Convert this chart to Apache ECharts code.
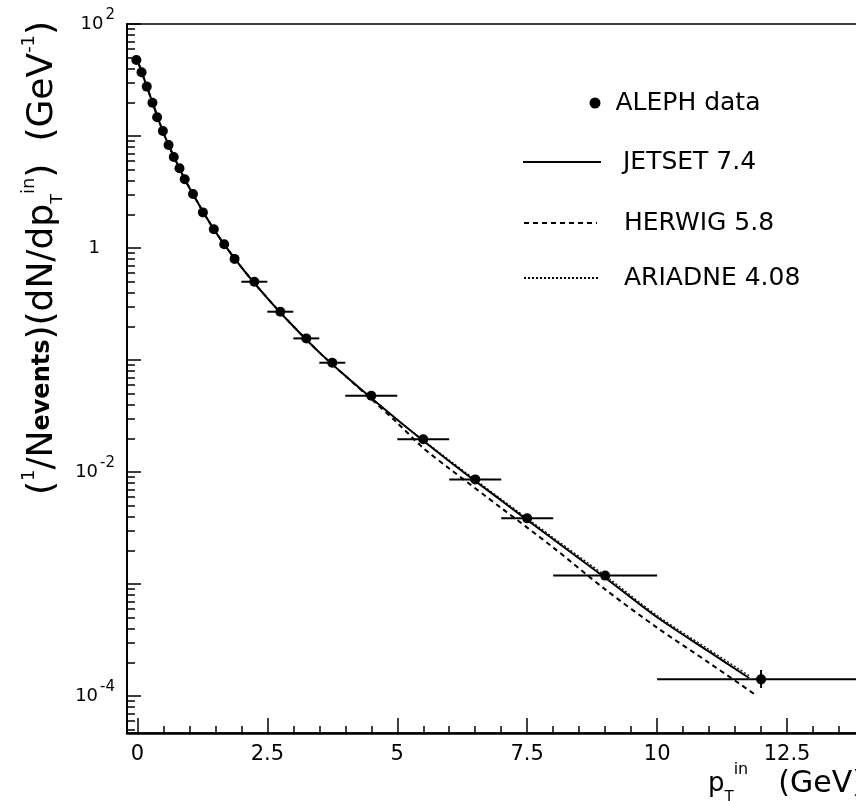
<!DOCTYPE html>
<html>
<head>
<meta charset="utf-8">
<script src="https://cdn.jsdelivr.net/npm/echarts@6/dist/echarts.min.js"></script>
<style>
  html, body { margin: 0; background: #fff; }
  #chart { width: 856px; height: 801px; }
</style>
</head>
<body>
<div id="chart"></div>
<script>
// ALEPH data, pT(in) spectrum (GeV)
const dataX = [-0.02, 0.08, 0.18, 0.29, 0.38, 0.49, 0.60, 0.70, 0.81, 0.91,
               1.07, 1.26, 1.47, 1.67, 1.87, 2.25, 2.75, 3.25, 3.75, 4.5,
               5.5, 6.5, 7.5, 9, 12];
const dataY = [47.7, 37.1, 27.6, 19.8, 14.7, 11.1, 8.3, 6.5, 5.15, 4.11,
               3.04, 2.08, 1.47, 1.08, 0.80, 0.50, 0.27, 0.156, 0.0946, 0.048,
               0.0196, 0.0086, 0.00386, 0.00119, 1.41e-4];
// bin edges (horizontal error bars), null = hidden under the marker
const errLo = [null, null, null, null, null, null, null, null, null, null,
               null, null, null, null, null, 2.0, 2.5, 3.0, 3.5, 4.0,
               5.0, 6.0, 7.0, 8.0, 10.0];
const errHi = [null, null, null, null, null, null, null, null, null, null,
               null, null, null, null, null, 2.5, 3.0, 3.5, 4.0, 5.0,
               6.0, 7.0, 8.0, 10.0, 14.0];
// vertical error, only visible on the last point
const errYLo = [1.18e-4];
const errYHi = [1.71e-4];
const errYAt = [12];

// Monte Carlo curves
const jetsetX = [-0.02, 0.25, 0.5, 0.75, 1, 1.5, 2, 2.5, 3, 3.5, 4, 5, 6, 7, 8, 9, 10, 11, 11.77];
const jetsetY = [50.7, 22.5, 10.7, 5.86, 3.45, 1.40, 0.675, 0.357, 0.200, 0.117, 0.0723,
                 0.0293, 0.0125, 0.00557, 0.00251, 0.00114, 5.05e-4, 2.49e-4, 1.45e-4];
const herwigX = [-0.02, 0.25, 0.5, 0.75, 1, 1.5, 2, 2.5, 3, 3.5, 4, 4.5, 5, 5.5, 6, 7, 8, 9, 10, 11, 11.9];
const herwigY = [50.7, 22.5, 10.7, 5.86, 3.45, 1.40, 0.675, 0.357, 0.200, 0.117, 0.0723,
                 0.0448, 0.0275, 0.0164, 0.01076, 0.00478, 0.00212, 8.97e-4, 4.08e-4, 1.98e-4, 1.02e-4];
const ariadneX = [-0.02, 0.25, 0.5, 0.75, 1, 1.5, 2, 2.5, 3, 3.5, 4, 5, 6, 7, 8, 9, 10, 11, 11.8];
const ariadneY = [50.7, 22.5, 10.7, 5.86, 3.45, 1.40, 0.675, 0.357, 0.200, 0.117, 0.0723,
                  0.0293, 0.0128, 0.00574, 0.0026, 0.00119, 5.24e-4, 2.6e-4, 1.49e-4];

// axis ticks
const xMajor = [0, 2.5, 5, 7.5, 10, 12.5, 15];
const xMinor = [0.5, 1, 1.5, 2, 3, 3.5, 4, 4.5, 5.5, 6, 6.5, 7, 8, 8.5, 9, 9.5,
                10.5, 11, 11.5, 12, 13, 13.5, 14, 14.5];
const yMajor = [1e-4, 1e-3, 1e-2, 1e-1, 1, 10, 100];
const yLabels = [1e-4, 1e-2, 1, 100];
const yMantissa = [2, 3, 4, 5, 6, 7, 8, 9];
const yDecades = [1e-5, 1e-4, 1e-3, 1e-2, 1e-1, 1, 10];

const X_MIN = -0.2, X_MAX = 15;
const Y_MIN = 4.68e-5, Y_MAX = 100;
const FONT = 'DejaVu Sans';

const pairs = (xs, ys) => xs.map((x, i) => [x, ys[i]]);
const yMinor = [];
yDecades.forEach(d => yMantissa.forEach(m => {
  const v = +(m * d).toPrecision(3);
  if (v > Y_MIN && v < Y_MAX) yMinor.push(v);
}));

const errRows = [];
dataX.forEach((x, i) => {
  if (errLo[i] == null) return;
  const k = errYAt.indexOf(x);
  errRows.push([x, dataY[i], errLo[i], errHi[i],
                k >= 0 ? errYLo[k] : 0, k >= 0 ? errYHi[k] : 0]);
});

function yLabel(v) {
  const e = Math.round(Math.log10(v));
  if (e === 0) return '{b|1}{p| }';
  return '{b|10}{s|' + e + '}';
}

const chart = echarts.init(document.getElementById('chart'), null, { renderer: 'canvas' });

const textBase = { fontFamily: FONT, fontSize: 25, color: '#000', lineHeight: 30 };
const legendBase = {
  orient: 'vertical',
  padding: 0,
  selectedMode: false,
  itemStyle: { opacity: 0, color: 'rgba(0,0,0,0)', borderWidth: 0 },
};
const tickStyle = { color: '#000', width: 1.5 };

chart.setOption({
  animation: false,
  backgroundColor: '#fff',
  grid: {
    left: 127, top: 24, width: 790, height: 709,
    show: true, borderColor: '#000', borderWidth: 1.5,
    containLabel: false, outerBoundsMode: 'none',
  },
  xAxis: [
    {
      type: 'value', min: X_MIN, max: X_MAX, position: 'bottom',
      axisLine: { show: true, onZero: false, lineStyle: { color: '#000', width: 2.5 } },
      axisTick: { show: true, inside: true, length: 15, customValues: xMajor, lineStyle: tickStyle },
      axisLabel: { show: true, customValues: xMajor, margin: 11,
                   fontFamily: FONT, fontSize: 21, color: '#000' },
      splitLine: { show: false },
    },
    {
      type: 'value', min: X_MIN, max: X_MAX, position: 'bottom',
      axisLine: { show: false, onZero: false },
      axisTick: { show: true, inside: true, length: 7, customValues: xMinor, lineStyle: tickStyle },
      axisLabel: { show: false },
      splitLine: { show: false },
    },
  ],
  yAxis: [
    {
      type: 'log', logBase: 10, min: Y_MIN, max: Y_MAX, position: 'left',
      axisLine: { show: true, onZero: false, lineStyle: { color: '#000', width: 2 } },
      axisTick: { show: true, inside: true, length: 14, customValues: yMajor, lineStyle: tickStyle },
      axisLabel: {
        show: true, customValues: yLabels, margin: 12, formatter: yLabel,
        rich: {
          b: { fontFamily: FONT, fontSize: 18, color: '#000', lineHeight: 32, verticalAlign: 'middle' },
          s: { fontFamily: FONT, fontSize: 15, color: '#000', lineHeight: 12, verticalAlign: 'top', padding: [0, 0, 0, 2] },
          p: { width: 15 },
        },
      },
      splitLine: { show: false },
    },
    {
      type: 'log', logBase: 10, min: Y_MIN, max: Y_MAX, position: 'left',
      axisLine: { show: false, onZero: false },
      axisTick: { show: true, inside: true, length: 8, customValues: yMinor, lineStyle: tickStyle },
      axisLabel: { show: false },
      splitLine: { show: false },
    },
  ],
  legend: [
    Object.assign({}, legendBase, {
      data: [{ name: 'ALEPH data', icon: 'circle' }],
      left: 589.5, top: 88, itemWidth: 11, itemHeight: 11,
      itemStyle: {},
      textStyle: Object.assign({}, textBase, { padding: [0, 0, 0, 10] }),
    }),
    Object.assign({}, legendBase, {
      data: ['JETSET 7.4'], left: 522, top: 147, itemWidth: 78, itemHeight: 14,
      textStyle: Object.assign({}, textBase, { padding: [0, 0, 0, 17] }),
    }),
    Object.assign({}, legendBase, {
      data: ['HERWIG 5.8'], left: 523, top: 208, itemWidth: 73, itemHeight: 14,
      textStyle: Object.assign({}, textBase, { padding: [0, 0, 0, 22] }),
    }),
    Object.assign({}, legendBase, {
      data: ['ARIADNE 4.08'], left: 523, top: 263, itemWidth: 74, itemHeight: 14,
      textStyle: Object.assign({}, textBase, { padding: [0, 0, 0, 21] }),
    }),
  ],
  graphic: [
    {
      type: 'text', x: 43, y: 258, rotation: Math.PI / 2, silent: true,
      style: {
        text: '{m|(}{sp|1}{m|/N}{sb|events}{m|)(dN/dp}{st|T}{sp|in}{m|)}{g| }{m|(GeV}{sp|-1}{m|)}',
        align: 'center', verticalAlign: 'middle', fill: '#000',
        rich: {
          m: { fontFamily: FONT, fontSize: 36, lineHeight: 46, verticalAlign: 'middle', fill: '#000' },
          sp: { fontFamily: FONT, fontSize: 18, lineHeight: 28, verticalAlign: 'top', fill: '#000' },
          sb: { fontFamily: FONT, fontSize: 24, fontWeight: 'bold', lineHeight: 24, verticalAlign: 'middle', fill: '#000' },
          st: { fontFamily: FONT, fontSize: 16, lineHeight: 26, verticalAlign: 'bottom', fill: '#000' },
          g: { width: 22 },
        },
      },
    },
    {
      type: 'text', x: 708, y: 784, silent: true,
      style: {
        text: '{m|p}{sb|T}{sp|in}{g| }{n|(GeV)}',
        align: 'left', verticalAlign: 'middle', fill: '#000',
        rich: {
          m: { fontFamily: FONT, fontSize: 26, lineHeight: 44, verticalAlign: 'middle', fill: '#000' },
          sp: { fontFamily: FONT, fontSize: 16, lineHeight: 22, verticalAlign: 'top', fill: '#000' },
          sb: { fontFamily: FONT, fontSize: 15, lineHeight: 22, verticalAlign: 'bottom', fill: '#000' },
          n: { fontFamily: FONT, fontSize: 30, lineHeight: 44, verticalAlign: 'middle', fill: '#000' },
          g: { width: 30 },
        },
      },
    },
  ],
  series: [
    {
      name: 'JETSET 7.4', type: 'line', data: pairs(jetsetX, jetsetY),
      symbol: 'none', smooth: 0.3, z: 3,
      lineStyle: { color: '#000', width: 2, type: 'solid' },
      itemStyle: { color: '#000' },
    },
    {
      name: 'HERWIG 5.8', type: 'line', data: pairs(herwigX, herwigY),
      symbol: 'none', smooth: 0.3, z: 2,
      lineStyle: { color: '#000', width: 2, type: [5, 4] },
      itemStyle: { color: '#000' },
    },
    {
      name: 'ARIADNE 4.08', type: 'line', data: pairs(ariadneX, ariadneY),
      symbol: 'none', smooth: 0.3, z: 2,
      lineStyle: { color: '#000', width: 1.2, type: [2, 2] },
      itemStyle: { color: '#000' },
    },
    {
      name: 'errors', type: 'custom', data: errRows, z: 4,
      encode: { x: 0, y: 1 },
      renderItem: (params, api) => {
        const y = api.value(1);
        const a = api.coord([api.value(2), y]);
        const b = api.coord([api.value(3), y]);
        const kids = [{
          type: 'line', shape: { x1: a[0], y1: a[1], x2: b[0], y2: b[1] },
          style: { stroke: '#000', lineWidth: 2 },
        }];
        if (api.value(4) > 0) {
          const c = api.coord([api.value(0), api.value(4)]);
          const d = api.coord([api.value(0), api.value(5)]);
          kids.push({
            type: 'line', shape: { x1: c[0], y1: c[1], x2: d[0], y2: d[1] },
            style: { stroke: '#000', lineWidth: 2 },
          });
        }
        return { type: 'group', children: kids };
      },
    },
    {
      name: 'ALEPH data', type: 'scatter', data: pairs(dataX, dataY),
      symbol: 'circle', symbolSize: 10, z: 5,
      itemStyle: { color: '#000', opacity: 1 },
    },
  ],
});
</script>
</body>
</html>
